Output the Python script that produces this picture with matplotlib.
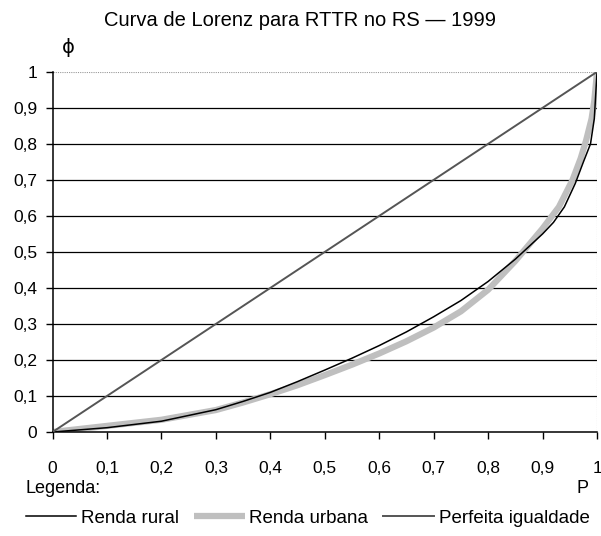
import matplotlib
import matplotlib.pyplot as plt
import numpy as np

matplotlib.use("Agg")

plt.rcParams["font.family"] = ["Liberation Sans", "DejaVu Sans"]

# Curvas de Lorenz (P = populacao acumulada, phi = renda acumulada)
p_rural = [0, 0.1, 0.2, 0.3, 0.35, 0.4, 0.45, 0.5, 0.55, 0.6, 0.65, 0.7, 0.75, 0.8, 0.85, 0.9, 0.92, 0.94, 0.96, 0.975, 0.988, 0.995, 1.0]
phi_rural = [0, 0.012, 0.03, 0.062, 0.085, 0.11, 0.14, 0.172, 0.205, 0.24, 0.278, 0.32, 0.365, 0.418, 0.48, 0.55, 0.582, 0.625, 0.69, 0.75, 0.8, 0.87, 1.0]

p_urbana = [0, 0.1, 0.2, 0.3, 0.35, 0.4, 0.45, 0.5, 0.55, 0.6, 0.65, 0.7, 0.75, 0.8, 0.85, 0.9, 0.93, 0.955, 0.97, 0.98, 0.99, 0.995, 1.0]
phi_urbana = [0, 0.017, 0.034, 0.061, 0.082, 0.105, 0.13, 0.158, 0.187, 0.218, 0.252, 0.29, 0.335, 0.395, 0.475, 0.565, 0.625, 0.7, 0.76, 0.81, 0.87, 0.92, 1.0]

p_igualdade = [0, 1]
phi_igualdade = [0, 1]

ticks = np.round(np.arange(0, 1.01, 0.1), 1)
tick_labels = ["0", "0,1", "0,2", "0,3", "0,4", "0,5", "0,6", "0,7", "0,8", "0,9", "1"]

fig = plt.figure(figsize=(6.01, 5.36), dpi=100)
ax = fig.add_axes([0.0874, 0.194, 0.906, 0.672])

# linhas de grade horizontais
for t in ticks[1:-1]:
    ax.axhline(t, color="black", lw=0.9, zorder=1)
ax.axhline(1, color="#999999", lw=0.8, ls=(0, (1, 1)), zorder=1)
ax.axvline(1, color="#999999", lw=0.8, ls=(0, (1, 1)), zorder=1)

l_urb, = ax.plot(p_urbana, phi_urbana, color="#bfbfbf", lw=4.5, solid_capstyle="butt", zorder=2, label="Renda urbana")
l_rur, = ax.plot(p_rural, phi_rural, color="black", lw=1.1, zorder=3, label="Renda rural")
l_ig, = ax.plot(p_igualdade, phi_igualdade, color="#555555", lw=1.4, zorder=3, label="Perfeita igualdade")

ax.set_xlim(0, 1)
ax.set_ylim(0, 1)
ax.set_xticks(ticks)
ax.set_xticklabels(tick_labels)
ax.set_yticks(ticks)
ax.set_yticklabels(tick_labels)
ax.tick_params(axis="x", direction="out", length=5, width=1, pad=16, labelsize=12.5)
ax.tick_params(axis="y", direction="out", length=5, width=1, pad=6, labelsize=12.5)
ax.spines["top"].set_visible(False)
ax.spines["right"].set_visible(False)
ax.spines["left"].set_linewidth(1.1)
ax.spines["bottom"].set_linewidth(1.1)

fig.text(0.5, 0.962, "Curva de Lorenz para RTTR no RS \u2014 1999", ha="center", va="center", fontsize=14.5)
fig.text(0.113, 0.912, "\u03d5", ha="center", va="center", fontsize=14, family=["DejaVu Sans"])
fig.text(0.042, 0.088, "Legenda:", ha="left", va="center", fontsize=13)
fig.text(0.97, 0.088, "P", ha="center", va="center", fontsize=13)

fig.legend(handles=[l_rur, l_urb, l_ig], loc="center", bbox_to_anchor=(0.512, 0.033), ncol=3,
           frameon=False, fontsize=13.5, handlelength=2.7, handletextpad=0.25, columnspacing=0.8,
           borderaxespad=0)

fig.savefig("out.png", dpi=100)
